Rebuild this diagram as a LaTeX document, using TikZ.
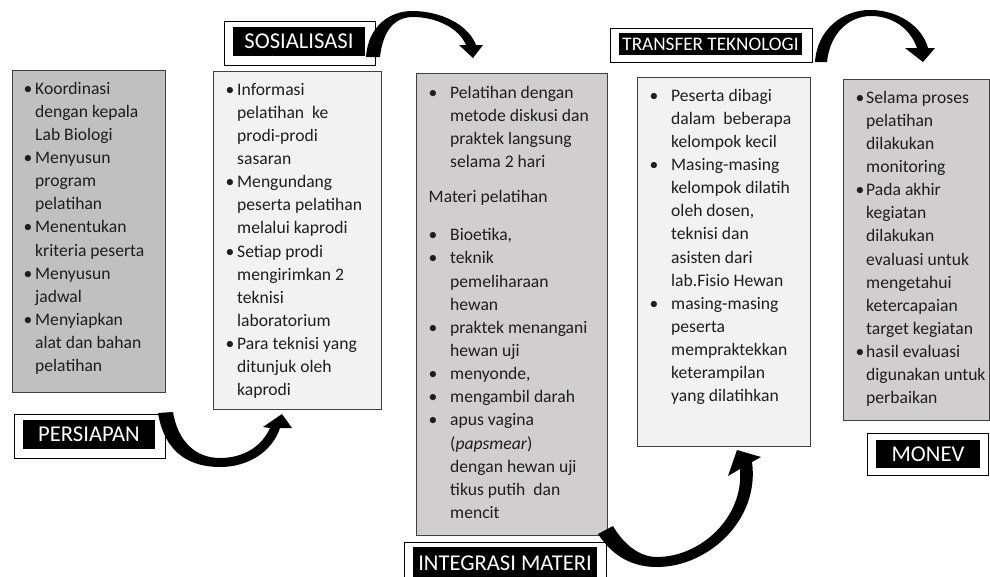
\documentclass[tikz,border=0pt]{standalone}
\usepackage{fontspec}
\setmainfont{Carlito}
\newlength\bw
\newcommand\BI{\makebox[\bw][l]{\textbullet}}
\newcommand\NI{\hspace*{\bw}}
\definecolor{grayA}{RGB}{192,192,192}
\definecolor{grayB}{RGB}{208,206,206}
\definecolor{grayC}{RGB}{242,242,242}
\definecolor{boxline}{RGB}{64,64,64}
\definecolor{ink}{RGB}{30,30,30}
\tikzset{
  cbox/.style={draw=boxline, line width=1.2pt, inner sep=0pt, anchor=north west},
  txt/.style={anchor=base west, inner sep=0pt, text=ink, font=\fontsize{17.6}{23.15}\selectfont},
  lblout/.style={draw=black, fill=white, line width=1pt, inner sep=0pt},
  lbl/.style={fill=black, text=white, inner sep=0pt, font=\fontsize{22.6}{26}\selectfont},
  blockarrow/.style={fill=black}
}
\begin{document}
\begin{tikzpicture}[x=1pt,y=-1pt]
\useasboundingbox (0,0) rectangle (990,576);
\clip (0,0) rectangle (990,576);

% content boxes
\node[cbox, fill=grayA, minimum width=153pt, minimum height=322pt] (pbox) at (12,70) {};
\node[cbox, fill=grayC, minimum width=168pt, minimum height=338pt] (sbox) at (213,71) {};
\node[cbox, fill=grayB, minimum width=191pt, minimum height=462pt] (ibox) at (416,73) {};
\node[cbox, fill=grayC, minimum width=173pt, minimum height=369pt] (tbox) at (637,77) {};
\node[cbox, fill=grayB, minimum width=146pt, minimum height=341pt] (mbox) at (843,79) {};

% texts
\node[txt] (ptext) at (23.5,94) {\setlength\bw{11.5pt}\begin{tabular}[t]{@{}l@{}}
\BI Koordinasi\\ \NI dengan kepala\\ \NI Lab Biologi\\
\BI Menyusun\\ \NI program\\ \NI pelatihan\\
\BI Menentukan\\ \NI kriteria peserta\\
\BI Menyusun\\ \NI jadwal\\
\BI Menyiapkan\\ \NI alat dan bahan\\ \NI pelatihan\end{tabular}};

\node[txt] (stext) at (225.5,95) {\setlength\bw{11.5pt}\begin{tabular}[t]{@{}l@{}}
\BI Informasi\\ \NI pelatihan\ \ ke\\ \NI prodi-prodi\\ \NI sasaran\\
\BI Mengundang\\ \NI peserta pelatihan\\ \NI melalui kaprodi\\
\BI Setiap prodi\\ \NI mengirimkan 2\\ \NI teknisi\\ \NI laboratorium\\
\BI Para teknisi yang\\ \NI ditunjuk oleh\\ \NI kaprodi\end{tabular}};

\node[txt] (itext) at (428.5,98) {\setlength\bw{21.5pt}\begin{tabular}[t]{@{}l@{}}
\BI Pelatihan dengan\\ \NI metode diskusi dan\\ \NI praktek langsung\\ \NI selama 2 hari\\[12pt]
Materi pelatihan\\[15pt]
\BI Bioetika,\\
\BI teknik\\ \NI pemeliharaan\\ \NI hewan\\
\BI praktek menangani\\ \NI hewan uji\\
\BI menyonde,\\
\BI mengambil darah\\
\BI apus vagina\\ \NI (\textit{papsmear})\\ \NI dengan hewan uji\\ \NI tikus putih\ \ dan\\ \NI mencit\end{tabular}};

\node[txt] (ttext) at (649.5,101) {\setlength\bw{21.5pt}\begin{tabular}[t]{@{}l@{}}
\BI Peserta dibagi\\ \NI dalam\ \ beberapa\\ \NI kelompok kecil\\
\BI Masing-masing\\ \NI kelompok dilatih\\ \NI oleh dosen,\\ \NI teknisi dan\\ \NI asisten dari\\ \NI lab.Fisio Hewan\\
\BI masing-masing\\ \NI peserta\\ \NI mempraktekkan\\ \NI keterampilan\\ \NI yang dilatihkan\end{tabular}};

\node[txt] (mtext) at (855.5,103) {\setlength\bw{10.5pt}\begin{tabular}[t]{@{}l@{}}
\BI Selama proses\\ \NI pelatihan\\ \NI dilakukan\\ \NI monitoring\\
\BI Pada akhir\\ \NI kegiatan\\ \NI dilakukan\\ \NI evaluasi untuk\\ \NI mengetahui\\ \NI ketercapaian\\ \NI target kegiatan\\
\BI hasil evaluasi\\ \NI digunakan untuk\\ \NI perbaikan\end{tabular}};

% labels
\node[lblout, minimum width=151pt, minimum height=44pt] (plblbox) at (89.5,436) {};
\node[lbl, minimum width=132pt, minimum height=29pt] (plbl) at (89,434.5) {PERSIAPAN};
\node[lblout, minimum width=151pt, minimum height=44pt] (slblbox) at (299.5,43) {};
\node[lbl, minimum width=132pt, minimum height=29pt] (slbl) at (299,41.5) {SOSIALISASI};
\node[lblout, minimum width=202pt, minimum height=48pt] (ilblbox) at (505,566) {};
\node[lbl, minimum width=184pt, minimum height=32pt] (ilbl) at (505,563) {INTEGRASI MATERI};
\node[lblout, minimum width=202pt, minimum height=34pt] (tlblbox) at (711,45) {};
\node[lbl, minimum width=183pt, minimum height=22pt, font=\fontsize{19.2}{22}\selectfont] (tlbl) at (710.5,44) {TRANSFER TEKNOLOGI};
\node[lblout, minimum width=121pt, minimum height=42pt] (mlblbox) at (927.5,454) {};
\node[lbl, minimum width=104pt, minimum height=28pt] (mlbl) at (928,454) {MONEV};

% curved block arrows
\fill[blockarrow] (158,413) .. controls (165,455) and (192,467) .. (220,467)
  .. controls (248,467) and (272,452) .. (280,428) -- (292,428) -- (282,414) -- (263,427) -- (270,428)
  .. controls (262,446) and (244,458) .. (220,458)
  .. controls (196,458) and (178,442) .. (173,412) -- cycle;

\fill[blockarrow] (366,57) .. controls (368,26) and (390,11) .. (412,11)
  .. controls (440,11) and (468,24) .. (476,45) -- (483,45) -- (473,58) -- (459,45) -- (466,45)
  .. controls (459,28) and (436,17) .. (413,17)
  .. controls (395,17) and (383,30) .. (380,57) -- cycle;

\fill[blockarrow] (598,534) .. controls (614,558) and (634,567) .. (657,567)
  .. controls (708,567) and (760,520) .. (752,462) -- (761,457) -- (737,450) -- (728,476) -- (740,469)
  .. controls (744,518) and (700,557) .. (657,557)
  .. controls (640,557) and (624,545) .. (613,526) -- cycle;

\fill[blockarrow] (815,62) .. controls (817,30) and (842,10) .. (870,10)
  .. controls (898,10) and (922,26) .. (928,48) -- (935,48) -- (923,62) -- (905,48) -- (917,48)
  .. controls (910,28) and (892,16) .. (871,16)
  .. controls (850,16) and (830,32) .. (827,62) -- cycle;
\end{tikzpicture}
\end{document}
